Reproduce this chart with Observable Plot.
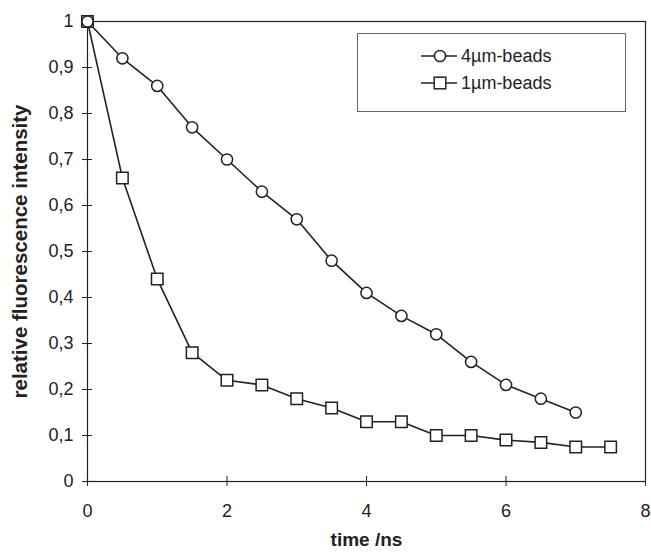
<!DOCTYPE html>
<html>
<head>
<meta charset="utf-8">
<script src="https://cdn.jsdelivr.net/npm/d3@7"></script>
<script src="https://cdn.jsdelivr.net/npm/@observablehq/plot@0.6"></script>
<style>
  html, body { margin: 0; padding: 0; background: #fff; }
  #wrap { position: relative; width: 651px; height: 553px; font-family: "Liberation Sans", Arial, sans-serif; color: #222; }
  #legend { position: absolute; left: 357px; top: 33px; width: 269px; height: 79px; border: 1px solid #666; box-sizing: border-box; background: #fff; }
  .row { position: absolute; left: 62px; display: flex; align-items: center; font-size: 18px; height: 24px; }
  .row svg { margin-right: 3px; }
</style>
</head>
<body>
<div id="wrap"></div>
<script>
// ---- data ----
const time4 = [0, 0.5, 1, 1.5, 2, 2.5, 3, 3.5, 4, 4.5, 5, 5.5, 6, 6.5, 7];
const beads4 = [1, 0.92, 0.86, 0.77, 0.70, 0.63, 0.57, 0.48, 0.41, 0.36, 0.32, 0.26, 0.21, 0.18, 0.15];
const time1 = [0, 0.5, 1, 1.5, 2, 2.5, 3, 3.5, 4, 4.5, 5, 5.5, 6, 6.5, 7, 7.5];
const beads1 = [1, 0.66, 0.44, 0.28, 0.22, 0.21, 0.18, 0.16, 0.13, 0.13, 0.10, 0.10, 0.09, 0.085, 0.075, 0.075];
const seriesNames = ["4µm-beads", "1µm-beads"];
const xTicks = [0, 2, 4, 6, 8];
const yTicks = [0, 0.1, 0.2, 0.3, 0.4, 0.5, 0.6, 0.7, 0.8, 0.9, 1];
const xTitle = "time /ns";
const yTitle = "relative fluorescence intensity";

const d4 = time4.map((t, i) => ({t, v: beads4[i]}));
const d1 = time1.map((t, i) => ({t, v: beads1[i]}));
const fmt = d => String(d).replace(".", ",");
const ink = "#222";

const chart = Plot.plot({
  width: 651,
  height: 553,
  marginLeft: 87,
  marginRight: 6,
  marginTop: 21,
  marginBottom: 72,
  style: {fontFamily: "'Liberation Sans', Arial, sans-serif", color: ink, background: "#fff"},
  x: {domain: [0, 8]},
  y: {domain: [0, 1]},
  marks: [
    Plot.frame({stroke: ink, strokeWidth: 1.2}),
    Plot.axisX({ticks: xTicks, tickFormat: fmt, tickSize: 10, dy: -5, tickPadding: 18, fontSize: 18, label: null, stroke: ink, fill: ink}),
    Plot.axisY({ticks: yTicks, tickFormat: fmt, tickSize: 10, dx: 5, tickPadding: 9, fontSize: 18, label: null, stroke: ink, fill: ink}),
    Plot.line(d1, {x: "t", y: "v", stroke: ink, strokeWidth: 1.6}),
    Plot.line(d4, {x: "t", y: "v", stroke: ink, strokeWidth: 1.6}),
    Plot.dot(d1, {x: "t", y: "v", symbol: "square", r: 6.5, fill: "#fff", stroke: ink, strokeWidth: 1.5}),
    Plot.dot(d4, {x: "t", y: "v", symbol: "circle", r: 5.6, fill: "#fff", stroke: ink, strokeWidth: 1.5}),
    Plot.text([xTitle], {frameAnchor: "bottom", dy: 64, text: d => d, textAnchor: "middle", fontSize: 19, fontWeight: "bold", fill: ink}),
    Plot.text([yTitle], {frameAnchor: "left", dx: -67, rotate: -90, text: d => d, textAnchor: "middle", fontSize: 20.5, fontWeight: "bold", fill: ink})
  ]
});

const wrap = document.getElementById("wrap");
wrap.appendChild(chart);

// legend
const legend = document.createElement("div");
legend.id = "legend";
const symbols = [
  '<circle cx="20" cy="10" r="5.6" fill="#fff" stroke="#222" stroke-width="1.5"/>',
  '<rect x="14.2" y="4.2" width="11.6" height="11.6" fill="#fff" stroke="#222" stroke-width="1.5"/>'
];
const rowTops = [10, 37];
seriesNames.forEach((name, i) => {
  const row = document.createElement("div");
  row.className = "row";
  row.style.top = rowTops[i] + "px";
  row.innerHTML = `<svg width="38" height="20"><line x1="1" x2="37" y1="10" y2="10" stroke="#222" stroke-width="1.6"/>${symbols[i]}</svg><span>${name}</span>`;
  legend.appendChild(row);
});
wrap.appendChild(legend);
</script>
</body>
</html>
